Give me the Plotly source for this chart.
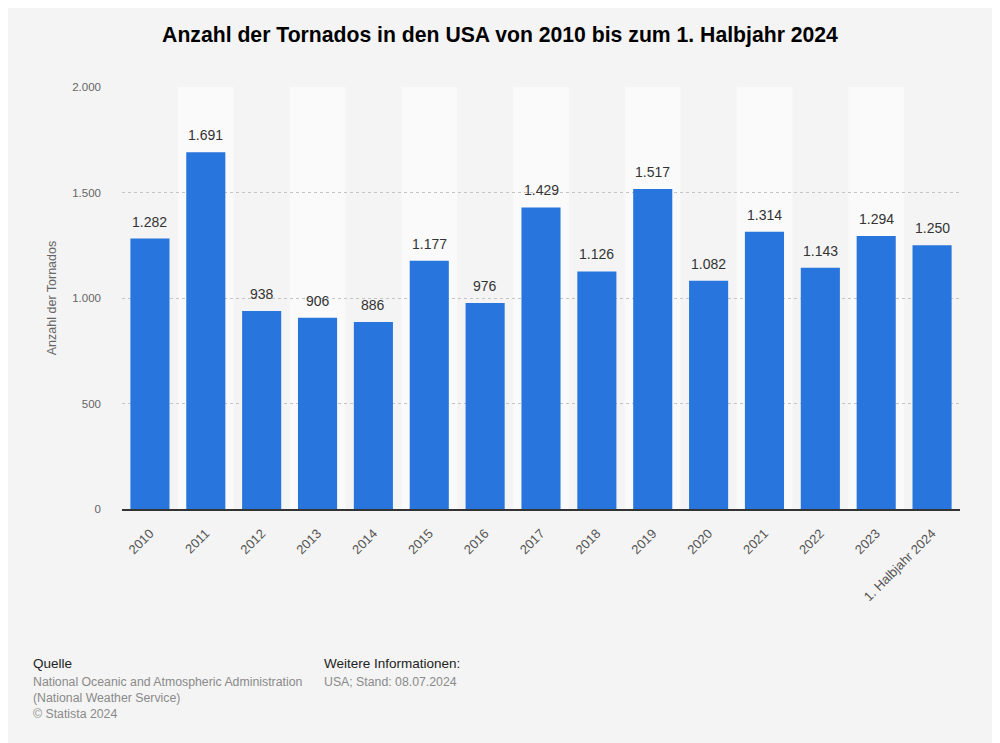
import plotly.graph_objects as go

categories = ["2010", "2011", "2012", "2013", "2014", "2015", "2016", "2017",
              "2018", "2019", "2020", "2021", "2022", "2023", "1. Halbjahr 2024"]
values = [1282, 1691, 938, 906, 886, 1177, 976, 1429, 1126, 1517, 1082, 1314, 1143, 1294, 1250]
y_ticks = [0, 500, 1000, 1500, 2000]

FONT = "Liberation Sans, Arial, sans-serif"

# page is rendered with an 8px body margin; figure sized to fit the window
OFF = 8
W, H = 1000 - OFF, 743 - OFF
L, R, T, B = 122 - OFF, 40, 87 - OFF, H - (509 - OFF)

fig = go.Figure()
fig.add_trace(go.Bar(
    x=categories, y=values,
    marker=dict(color="#2876dd", line=dict(width=0)),
    width=0.7,
    hoverinfo="skip",
))

# value labels above bars (category index used as x position)
label_ann = []
for i, v in enumerate(values):
    label_ann.append(dict(
        x=i, y=v, xref="x", yref="y", text=f"{v:,}".replace(",", "."),
        showarrow=False, yanchor="bottom", yshift=7,
        font=dict(family=FONT, size=14, color="#333333"),
    ))

shapes = []
for i in range(len(categories)):
    if i % 2 == 1:
        shapes.append(dict(type="rect", xref="x", yref="y", layer="below",
                           x0=i - 0.5, x1=i + 0.5, y0=0, y1=y_ticks[-1],
                           fillcolor="#fafafa", line=dict(width=0)))

pw, ph = W - L - R, H - T - B


def footer(text, px, py, dark):
    # px, py: page pixel position of the text's top-left
    return dict(
        text=text, showarrow=False, xref="paper", yref="paper",
        x=(px - OFF - L) / pw, y=(H - B - (py - OFF)) / ph,
        xanchor="left", yanchor="top", align="left",
        font=dict(family=FONT, size=13.5 if dark else 12.3,
                  color="#222222" if dark else "#8a8a8a"),
    )


footer_ann = [
    footer("Quelle", 31, 654, True),
    footer("National Oceanic and Atmospheric Administration<br>(National Weather Service)<br>© Statista 2024",
           31, 673, False),
    footer("Weitere Informationen:", 322, 654, True),
    footer("USA; Stand: 08.07.2024", 322, 673, False),
]

fig.update_layout(
    width=W, height=H,
    paper_bgcolor="#f4f4f4", plot_bgcolor="#f4f4f4",
    margin=dict(l=L, r=R, t=T, b=B),
    separators=",.",
    showlegend=False,
    shapes=shapes,
    title=dict(text="<b>Anzahl der Tornados in den USA von 2010 bis zum 1. Halbjahr 2024</b>",
               x=(500 - OFF) / W, xanchor="center", y=1 - (35 - OFF) / H, yanchor="middle",
               font=dict(family=FONT, size=21.2, color="#000000")),
    xaxis=dict(type="category", tickangle=-45,
               tickfont=dict(family=FONT, size=13, color="#555555"),
               showline=True, linecolor="#333333", linewidth=1.5,
               ticks="", showgrid=False, ticklabelstandoff=10,
               range=[-0.5, len(categories) - 0.5]),
    yaxis=dict(range=[0, 2000], tickvals=y_ticks, tickformat=",",
               tickfont=dict(family=FONT, size=11.5, color="#666666"),
               showgrid=True, gridcolor="#c4c4c4", griddash="dot", gridwidth=1,
               zeroline=False, ticks="", ticklabelstandoff=20,
               title=dict(text="Anzahl der Tornados", standoff=12,
                          font=dict(family=FONT, size=12.5, color="#666666"))),
    annotations=label_ann + footer_ann,
)

fig.write_html("out.html")
